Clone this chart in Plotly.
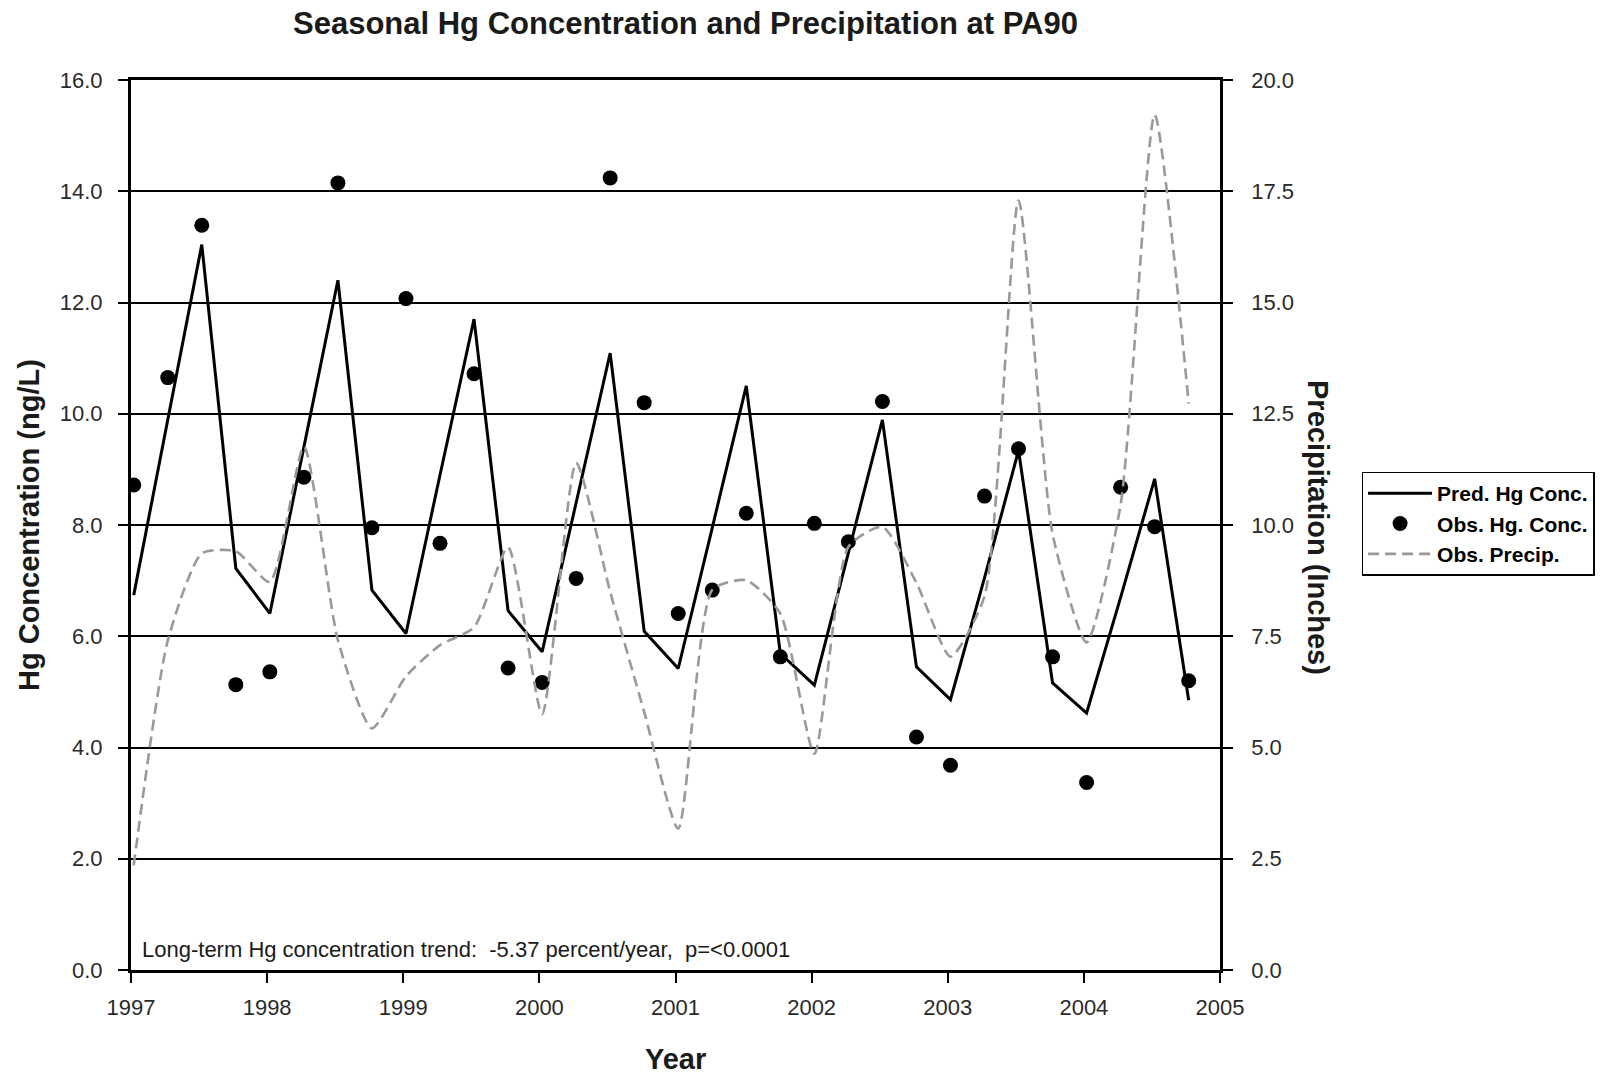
import plotly.graph_objects as go

# Seasonal sample times (decimal years)
season_x = [1997.02, 1997.27, 1997.52, 1997.77,
            1998.02, 1998.27, 1998.52, 1998.77,
            1999.02, 1999.27, 1999.52, 1999.77,
            2000.02, 2000.27, 2000.52, 2000.77,
            2001.02, 2001.27, 2001.52, 2001.77,
            2002.02, 2002.27, 2002.52, 2002.77,
            2003.02, 2003.27, 2003.52, 2003.77,
            2004.02, 2004.27, 2004.52, 2004.77]

pred_hg = [6.74, 9.9, 13.04, 7.22,
           6.41, 9.4, 12.4, 6.83,
           6.05, 8.9, 11.7, 6.46,
           5.72, 8.4, 11.09, 6.09,
           5.42, 7.95, 10.5, 5.69,
           5.12, 7.5, 9.89, 5.45,
           4.86, 7.05, 9.34, 5.16,
           4.62, 6.7, 8.83, 4.85]

obs_hg = [8.72, 10.65, 13.39, 5.13,
          5.36, 8.86, 14.15, 7.95,
          12.07, 7.67, 10.72, 5.43,
          5.17, 7.04, 14.24, 10.2,
          6.41, 6.83, 8.21, 5.63,
          8.03, 7.70, 10.22, 4.19,
          3.68, 8.52, 9.37, 5.63,
          3.37, 8.68, 7.97, 5.20]

obs_precip = [2.35, 7.4, 9.36, 9.41,
              8.72, 11.76, 7.41, 5.43,
              6.6, 7.3, 7.7, 9.5,
              5.75, 11.4, 8.5, 5.8,
              3.18, 8.54, 8.76, 8.01,
              4.86, 9.51, 9.96, 8.7,
              7.04, 8.4, 17.29, 9.8,
              7.36, 10.46, 19.22, 12.73]

year_ticks = [1997, 1998, 1999, 2000, 2001, 2002, 2003, 2004, 2005]
hg_ticks = [0, 2, 4, 6, 8, 10, 12, 14, 16]
precip_ticks = [0, 2.5, 5, 7.5, 10, 12.5, 15, 17.5, 20]

FONT = "Liberation Sans, Arial, sans-serif"
TXT = "#1a1a1a"
TICKFONT = dict(size=22, color="#2a2a2a")

fig = go.Figure()

fig.add_trace(go.Scatter(
    x=season_x, y=pred_hg, name="Pred. Hg Conc.", mode="lines",
    line=dict(color="black", width=3), yaxis="y"))
fig.add_trace(go.Scatter(
    x=season_x, y=obs_hg, name="Obs. Hg. Conc.", mode="markers",
    marker=dict(color="black", size=15, symbol="circle"), yaxis="y"))
fig.add_trace(go.Scatter(
    x=season_x, y=obs_precip, name="Obs. Precip.", mode="lines",
    line=dict(color="#999999", width=2.6, dash="11px,6px", shape="spline", smoothing=0.6),
    yaxis="y2"))

fig.update_layout(
    width=1614, height=1074,
    margin=dict(l=131, r=394, t=80, b=104),
    paper_bgcolor="white", plot_bgcolor="white",
    font=dict(family=FONT, color=TXT),
    showlegend=True,
    legend=dict(x=1.13, y=0.56, xanchor="left", yanchor="top",
                bordercolor="black", borderwidth=1.5,
                font=dict(family=FONT, size=21, color="black", weight="bold"),
                itemwidth=64, tracegroupgap=0, bgcolor="white"),
    xaxis=dict(range=[1997, 2005], tickvals=year_ticks,
               ticks="outside", ticklen=10, tickwidth=2, tickcolor="black",
               ticklabelstandoff=6,
               showline=True, linewidth=3, linecolor="black", mirror=True,
               showgrid=False, zeroline=False, tickfont=TICKFONT),
    yaxis=dict(range=[0, 16], tickvals=hg_ticks, tickformat=".1f",
               ticks="outside", ticklen=10, tickwidth=2, tickcolor="black",
               ticklabelstandoff=11,
               showline=True, linewidth=3, linecolor="black",
               showgrid=True, gridcolor="black", gridwidth=1.6, zeroline=False,
               tickfont=TICKFONT),
    yaxis2=dict(range=[0, 20], tickvals=precip_ticks, tickformat=".1f",
                overlaying="y", side="right", anchor="x",
                ticks="outside", ticklen=10, tickwidth=2, tickcolor="black",
                ticklabelstandoff=14,
                showline=True, linewidth=2.5, linecolor="black",
                showgrid=False, zeroline=False, tickfont=TICKFONT),
    annotations=[
        dict(text="<b>Seasonal Hg Concentration and Precipitation at PA90</b>",
             xref="paper", yref="paper", x=0.5, y=1.0, xshift=10, yshift=57,
             xanchor="center", yanchor="middle", showarrow=False,
             font=dict(size=31, color=TXT)),
        dict(text="<b>Year</b>", xref="paper", yref="paper", x=0.5, y=0,
             yshift=-89, xanchor="center", yanchor="middle", showarrow=False,
             font=dict(size=29, color=TXT)),
        dict(text="<b>Hg Concentration (ng/L)</b>", xref="paper", yref="paper",
             x=0, y=0.5, xshift=-102, yshift=0, xanchor="center", yanchor="middle",
             textangle=-90, showarrow=False, font=dict(size=29, color=TXT)),
        dict(text="<b>Precipitation (Inches)</b>", xref="paper", yref="paper",
             x=1, y=0.5, xshift=98, yshift=-2, xanchor="center", yanchor="middle",
             textangle=90, showarrow=False, font=dict(size=29, color=TXT)),
        dict(text="Long-term Hg concentration trend:  -5.37 percent/year,  p=<0.0001",
             xref="paper", yref="paper", x=0, y=0, xshift=9, yshift=21,
             xanchor="left", yanchor="middle", showarrow=False,
             font=dict(size=22, color=TXT)),
    ],
)

fig.write_html("out.html")
